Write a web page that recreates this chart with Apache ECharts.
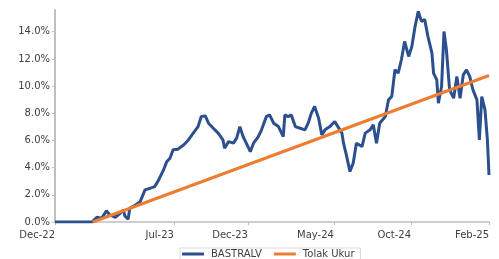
<!DOCTYPE html>
<html>
<head>
<meta charset="utf-8">
<script src="https://cdn.jsdelivr.net/npm/echarts@6/dist/echarts.min.js"></script>
<style>
  html, body { margin: 0; padding: 0; background: #fff; }
  #chart { width: 499px; height: 259px; }
</style>
</head>
<body>
<div id="chart"></div>
<script>
// trading day index (0 = Dec-22) and return in %
var fundDays = [0, 46, 52, 58, 64, 68, 75, 81, 85, 87, 91, 93, 100, 106, 112, 118, 124, 129, 135, 139,
	143, 147, 153, 160, 166, 172, 178, 182, 187, 191, 197, 203, 209, 211, 216, 222, 226, 230, 234, 238,
	243, 247, 253, 257, 263, 267, 272, 278, 284, 286, 290, 294, 299, 305, 311, 315, 319, 323, 328, 332,
	336, 342, 348, 352, 357, 359, 363, 367, 371, 375, 382, 386, 392, 396, 400, 404, 411, 415, 419, 423,
	427, 431, 435, 440, 444, 448, 452, 456, 460, 464, 469, 471, 475, 477, 481, 484, 487, 491, 496, 500,
	504, 508, 512, 516, 520, 525, 528, 531, 535, 538, 540];
var fundValues = [0, 0, 0.35, 0.27, 0.83, 0.52, 0.35, 0.64, 0.88, 0.44, 0.20, 1.01, 1.25, 1.50, 2.36, 2.48, 2.60, 3.10, 3.83, 4.44,
	4.69, 5.31, 5.36, 5.67, 6.04, 6.54, 7.02, 7.76, 7.81, 7.27, 6.90, 6.54, 6.04, 5.43, 5.92, 5.80, 6.17, 7.02, 6.29, 5.80,
	5.18, 5.80, 6.29, 6.78, 7.76, 7.88, 7.27, 7.02, 6.29, 7.88, 7.76, 7.88, 7.02, 6.90, 6.78, 7.27, 8.01, 8.50, 7.64, 6.41,
	6.78, 7.02, 7.39, 7.02, 6.54, 5.80, 4.81, 3.71, 4.33, 5.80, 5.55, 6.54, 6.78, 7.15, 5.80, 7.27, 7.76, 8.99, 9.23, 11.20,
	10.96, 11.94, 13.29, 12.18, 12.92, 14.39, 15.50, 14.76, 14.89, 13.66, 12.43, 10.96, 10.46, 8.75, 9.97, 14.02, 12.67, 9.73, 9.11, 10.71,
	9.11, 10.83, 11.20, 10.71, 9.73, 8.99, 6.04, 9.23, 8.25, 6.04, 3.46];

var benchDays = [47, 540];
var benchValues = [0, 10.78];

var tickDays = [0, 148, 240, 347, 443, 540];
var tickNames = ['Dec-22', 'Jul-23', 'Dec-23', 'May-24', 'Oct-24', 'Feb-25'];
var yTicks = [0, 2, 4, 6, 8, 10, 12, 14];

function toPairs(xs, ys) {
	var out = [];
	for (var i = 0; i < xs.length; i++) {
		out.push([xs[i], ys[i]]);
	}
	return out;
}

var chart = echarts.init(document.getElementById('chart'));
var font = 'DejaVu Sans';

var option = {
	animation: false,
	textStyle: { fontFamily: font },
	grid: { left: 55, right: 10, top: 10, bottom: 37 },
	legend: {
		left: 180,
		top: 248,
		padding: [1, 6, 1, 2],
		borderColor: '#d9d9d9',
		borderWidth: 1,
		icon: 'rect',
		itemWidth: 22,
		itemHeight: 3,
		itemGap: 12,
		textStyle: { fontFamily: font, fontSize: 10, color: '#404040', padding: [0, 0, 0, 2] },
		data: ['BASTRALV', 'Tolak Ukur']
	},
	xAxis: {
		type: 'value',
		min: 0,
		max: 540,
		splitLine: { show: false },
		axisLine: { lineStyle: { color: '#bfbfbf', width: 1.5 } },
		axisTick: { show: true, length: 3, lineStyle: { color: '#bfbfbf' }, customValues: tickDays },
		axisLabel: {
			customValues: tickDays,
			align: 'right',
			margin: 8,
			fontSize: 10,
			color: '#404040',
			fontFamily: font,
			formatter: function (v) {
				var k = tickDays.indexOf(v);
				return k >= 0 ? tickNames[k] : '';
			}
		}
	},
	yAxis: {
		type: 'value',
		min: 0,
		max: 15.6,
		splitLine: { show: false },
		axisLine: { show: true, lineStyle: { color: '#bfbfbf', width: 2 } },
		axisTick: { show: true, length: 3, lineStyle: { color: '#bfbfbf' }, customValues: yTicks },
		axisLabel: {
			customValues: yTicks,
			margin: 5,
			fontSize: 10,
			color: '#404040',
			fontFamily: font,
			formatter: function (v) { return v.toFixed(1) + '%'; }
		}
	},
	series: [
		{
			name: 'BASTRALV',
			type: 'line',
			symbol: 'none',
			data: toPairs(fundDays, fundValues),
			lineStyle: { color: '#2c4f8e', width: 3 },
			itemStyle: { color: '#2c4f8e' }
		},
		{
			name: 'Tolak Ukur',
			type: 'line',
			symbol: 'none',
			data: toPairs(benchDays, benchValues),
			lineStyle: { color: '#ed7d31', width: 3 },
			itemStyle: { color: '#ed7d31' }
		}
	]
};

chart.setOption(option);
</script>
</body>
</html>
